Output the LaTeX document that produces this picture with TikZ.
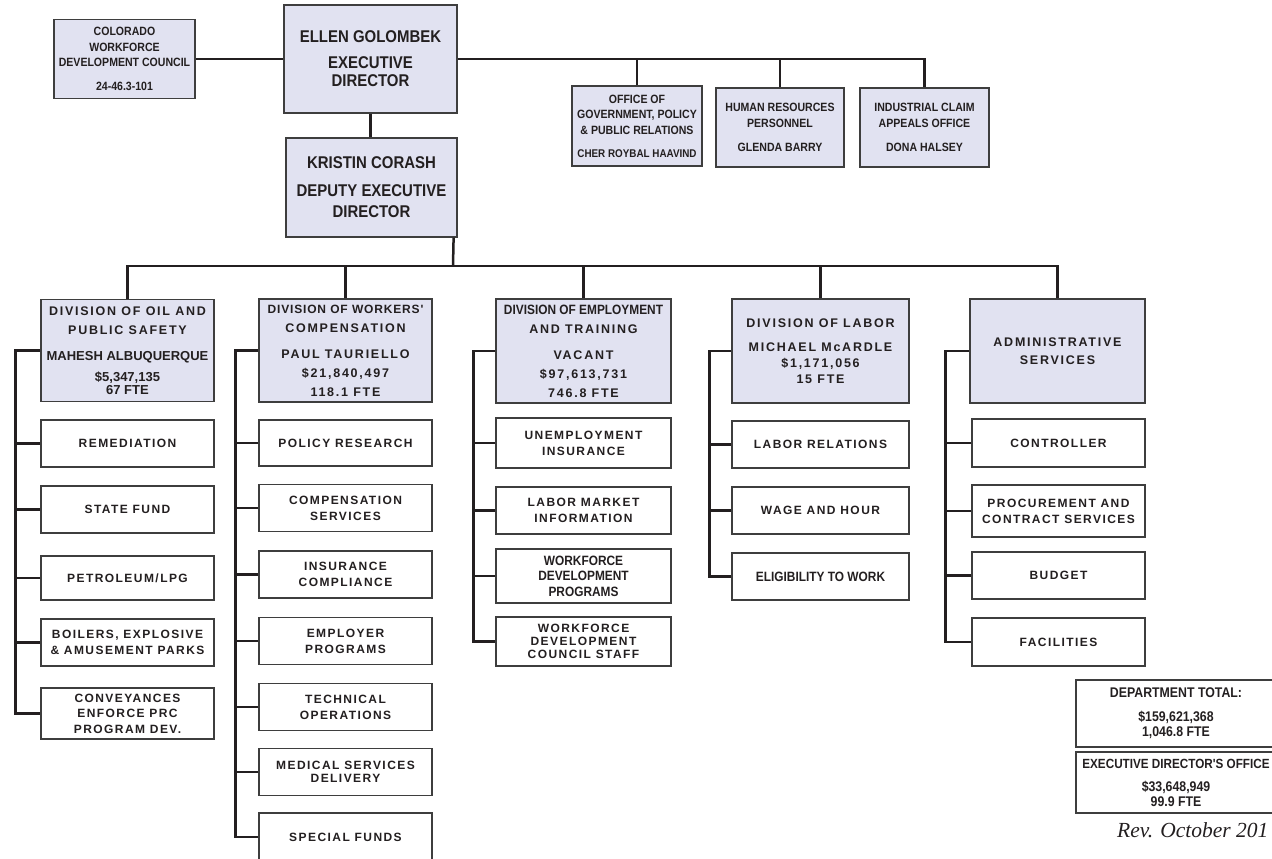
\documentclass[tikz,border=0pt]{standalone}
\usepackage{fontspec}
\setmainfont{Liberation Serif}
\setsansfont{Liberation Sans}
\newfontfamily\narrowsf[FakeStretch=0.88]{Liberation Sans}
\newfontfamily\widesf[LetterSpace=12]{Liberation Sans}
\newfontfamily\divsf[LetterSpace=14]{Liberation Sans}
\usetikzlibrary{positioning}
\definecolor{BoxLilac}{RGB}{225,226,241}
\definecolor{EdgeGray}{RGB}{62,62,62}
\definecolor{LinkDark}{RGB}{35,31,32}
\tikzset{
	link/.style={draw=LinkDark, line width=2.5pt},
	headbox/.style={draw=EdgeGray, line width=1.2pt, fill=BoxLilac, inner sep=0pt, align=center, text=LinkDark},
	topbox/.style={headbox, font=\narrowsf\bfseries\fontsize{12}{15.5}\selectfont},
	bossbox/.style={headbox, font=\narrowsf\bfseries\fontsize{17}{18}\selectfont},
	divbox/.style={headbox, minimum height=104, font=\divsf\bfseries\fontsize{12.5}{19}\selectfont},
	unitbox/.style={draw=EdgeGray, line width=1.2pt, fill=white, inner sep=0pt, align=center, minimum width=173, minimum height=47, text=LinkDark, font=\widesf\bfseries\fontsize{12}{16}\selectfont},
	sumbox/.style={unitbox, minimum width=200, font=\narrowsf\bfseries\fontsize{14}{15}\selectfont},
}

\begin{document}
\begin{tikzpicture}[x=1pt, y=-1pt]
	\useasboundingbox (0,0) rectangle (1272,859);

	% top of the department
	\node[topbox, minimum width=141, minimum height=79] (cwdc) at (124.5,59) {COLORADO\\ WORKFORCE\\ DEVELOPMENT COUNCIL\\[8pt] 24-46.3-101};
	\node[bossbox, minimum width=173, minimum height=108] (ellen) at (370.5,59) {ELLEN GOLOMBEK\\[8pt] EXECUTIVE\\ DIRECTOR};
	\node[bossbox, minimum width=171, minimum height=99, font=\narrowsf\bfseries\fontsize{17}{21}\selectfont] (kristin) at (371.5,187.5) {KRISTIN CORASH\\[7pt] DEPUTY EXECUTIVE\\ DIRECTOR};
	\node[topbox, minimum width=130, minimum height=80] (ogp) at (637,126) {OFFICE OF\\ GOVERNMENT, POLICY\\ \& PUBLIC RELATIONS\\[7.5pt] {\fontsize{11.2}{15.5}\selectfont CHER ROYBAL HAAVIND}};
	\node[topbox, minimum width=128, minimum height=79] (hr) at (780,127.5) {HUMAN RESOURCES\\ PERSONNEL\\[8.5pt] GLENDA BARRY};
	\node[topbox, minimum width=129, minimum height=79] (icao) at (924.5,127.5) {INDUSTRIAL CLAIM\\ APPEALS OFFICE\\[8.5pt] DONA HALSEY};

	\draw[link] (cwdc.east) -- (cwdc.east -| ellen.west);
	\draw[link] (ellen.east) -| (icao.north);
	\draw[link] (ogp.north) -- (ogp.north |- ellen.east);
	\draw[link] (hr.north) -- (hr.north |- ellen.east);
	\draw[link] (ellen.south) -- (ellen.south |- kristin.north);

	% divisions
	\node[divbox, minimum width=173, minimum height=102] (oil) at (127.5,350.5) {DIVISION OF OIL AND\\ PUBLIC SAFETY\\[7pt] {\sffamily\bfseries\fontsize{13}{19}\selectfont MAHESH ALBUQUERQUE}\\[2pt] {\sffamily\bfseries\fontsize{13}{19}\selectfont \$5,347,135}\\[-6pt] {\sffamily\bfseries\fontsize{13}{19}\selectfont 67 FTE}};
	\node[divbox, minimum width=173, minimum height=103] (wc) at (345.5,350.5) {{\addfontfeature{LetterSpace=7}\fontsize{12}{19}\selectfont DIVISION OF WORKERS'}\\ COMPENSATION\\[7pt] PAUL TAURIELLO\\ \$21,840,497\\ 118.1 FTE};
	\node[divbox, minimum width=175] (et) at (583.5,351) {{\narrowsf\bfseries\fontsize{13.5}{19}\selectfont DIVISION OF EMPLOYMENT}\\ AND TRAINING\\[7pt] VACANT\\ \$97,613,731\\ 746.8 FTE};
	\node[divbox, minimum width=177] (labor) at (820.5,351) {DIVISION OF LABOR\\[5pt] MICHAEL McARDLE\\[-3pt] \$1,171,056\\[-3pt] 15 FTE};
	\node[divbox, minimum width=175] (admin) at (1057.5,351) {ADMINISTRATIVE\\[-1pt] SERVICES};

	\coordinate (divbus) at (453,266);
	\draw[link] ([xshift=-4pt]kristin.south east) -- (divbus);
	\draw[link] (oil.north) |- (divbus) -| (admin.north);
	\foreach \d in {wc,et,labor}
		\draw[link] (\d.north) -- (\d.north |- divbus);

	% units of oil and public safety
	\node[unitbox] (oil1) at (127.5,443.5) {REMEDIATION};
	\node[unitbox] (oil2) at (127.5,509.5) {STATE FUND};
	\node[unitbox, minimum height=44] (oil3) at (127.5,578) {PETROLEUM/LPG};
	\node[unitbox] (oil4) at (127.5,642.5) {BOILERS, EXPLOSIVE\\ \& AMUSEMENT PARKS};
	\node[unitbox, minimum height=51, font=\widesf\bfseries\fontsize{12}{15.5}\selectfont] (oil5) at (127.5,713.5) {CONVEYANCES\\ ENFORCE PRC\\ PROGRAM DEV.};
	\foreach \n in {1,...,4}
		\draw[link] (oil\n.west) -- ++(-25,0);
	\draw[link] (oil.west) -- ++(-25,0) |- (oil5.west);

	% units of workers' compensation
	\node[unitbox, minimum height=46] (wc1) at (345.5,443) {POLICY RESEARCH};
	\node[unitbox] (wc2) at (345.5,508) {COMPENSATION\\ SERVICES};
	\node[unitbox] (wc3) at (345.5,574.5) {INSURANCE\\ COMPLIANCE};
	\node[unitbox] (wc4) at (345.5,641) {EMPLOYER\\ PROGRAMS};
	\node[unitbox] (wc5) at (345.5,707) {TECHNICAL\\ OPERATIONS};
	\node[unitbox] (wc6) at (345.5,772) {MEDICAL SERVICES\\[-3pt] DELIVERY};
	\node[unitbox, minimum height=48] (wc7) at (345.5,837) {SPECIAL FUNDS};
	\foreach \n in {1,...,6}
		\draw[link] (wc\n.west) -- ++(-23,0);
	\draw[link] (wc.west) -- ++(-23,0) |- (wc7.west);

	% units of employment and training
	\node[unitbox, minimum width=175, minimum height=50] (et1) at (583.5,443) {UNEMPLOYMENT\\ INSURANCE};
	\node[unitbox, minimum width=175] (et2) at (583.5,510.5) {LABOR MARKET\\ INFORMATION};
	\node[unitbox, minimum width=175, minimum height=54, font=\narrowsf\bfseries\fontsize{13.5}{15.5}\selectfont] (et3) at (583.5,576) {WORKFORCE\\ DEVELOPMENT\\ PROGRAMS};
	\node[unitbox, minimum width=175, minimum height=49, font=\widesf\bfseries\fontsize{12}{13}\selectfont] (et4) at (583.5,641.5) {WORKFORCE\\ DEVELOPMENT\\ COUNCIL STAFF};
	\foreach \n in {1,...,3}
		\draw[link] (et\n.west) -- ++(-22,0);
	\draw[link] (et.west) -- ++(-22,0) |- (et4.west);

	% units of labor
	\node[unitbox, minimum width=177] (lab1) at (820.5,444.5) {LABOR RELATIONS};
	\node[unitbox, minimum width=177] (lab2) at (820.5,510.5) {WAGE AND HOUR};
	\node[unitbox, minimum width=177, font=\narrowsf\bfseries\fontsize{13.5}{16}\selectfont] (lab3) at (820.5,576.5) {ELIGIBILITY TO WORK};
	\foreach \n in {1,2}
		\draw[link] (lab\n.west) -- ++(-22,0);
	\draw[link] (labor.west) -- ++(-22,0) |- (lab3.west);

	% units of administrative services
	\node[unitbox, minimum height=48] (adm1) at (1058.5,443) {CONTROLLER};
	\node[unitbox, minimum height=52] (adm2) at (1058.5,511) {PROCUREMENT AND\\ CONTRACT SERVICES};
	\node[unitbox] (adm3) at (1058.5,575.5) {BUDGET};
	\node[unitbox, minimum height=48] (adm4) at (1058.5,642) {FACILITIES};
	\foreach \n in {1,...,3}
		\draw[link] (adm\n.west) -- ++(-26,0);
	\draw[link] (admin.west) -- ++(-24,0) |- (adm4.west);

	% totals
	\node[sumbox, minimum height=67] (total) at (1176,713.5) {DEPARTMENT TOTAL:\\[9pt] \$159,621,368\\ 1,046.8 FTE};
	\node[sumbox, minimum height=61] (edo) at (1176,782.5) {{\fontsize{13.3}{15}\selectfont EXECUTIVE DIRECTOR'S OFFICE}\\[8pt] \$33,648,949\\ 99.9 FTE};
	\node[anchor=base west, inner sep=0pt, text=LinkDark, font=\rmfamily\itshape\fontsize{21.5}{24}\selectfont] (rev) at (1117,837) {Rev. October 201};
\end{tikzpicture}
\end{document}
